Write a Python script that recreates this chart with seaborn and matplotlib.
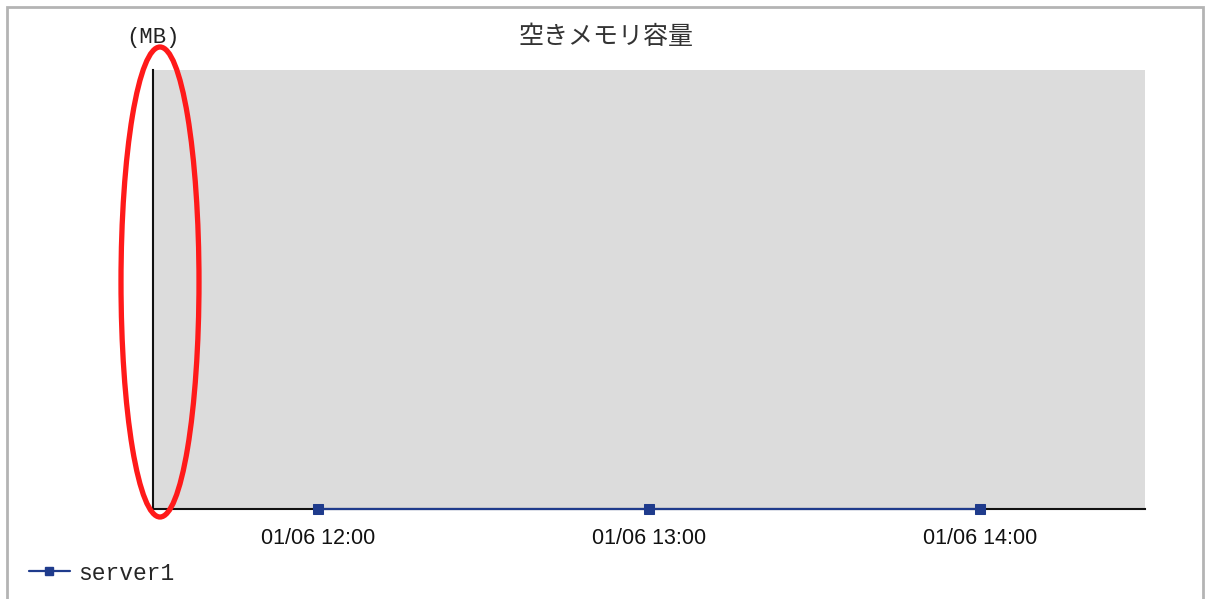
import matplotlib
matplotlib.use("Agg")
import matplotlib.pyplot as plt
import matplotlib.dates as mdates
from matplotlib.patches import Ellipse, Rectangle
from matplotlib.lines import Line2D
import seaborn as sns
import pandas as pd

# ---- data ----
times = ["2024-01-06 12:00", "2024-01-06 13:00", "2024-01-06 14:00"]
free_mb = [0, 0, 0]
series_name = "server1"
title = "空きメモリ容量"
unit_label = "(MB)"
x_start = "2024-01-06 11:30"
x_end = "2024-01-06 14:30"

df = pd.DataFrame({"time": pd.to_datetime(times), "value": free_mb, "series": series_name})

sns.set_theme(style="white")
plt.rcParams['font.family'] = ['Noto Sans CJK JP', 'DejaVu Sans']

fig = plt.figure(figsize=(12.10, 5.99), dpi=100)
ax = fig.add_axes([153/1210, 1-509/599, (1145-153)/1210, (509-70)/599])
ax.set_facecolor("#dcdcdc")

navy = "#1f3b8c"
sns.lineplot(data=df, x="time", y="value", hue="series", palette=[navy],
             marker="s", markersize=7, markeredgecolor=navy, linewidth=1.6,
             ax=ax, clip_on=False, legend=False, zorder=5)

ax.set_xlim(pd.Timestamp(x_start), pd.Timestamp(x_end))
ax.set_ylim(0, 1)
ax.set_yticks([])
ax.set_xlabel("")
ax.set_ylabel("")
ax.xaxis.set_major_locator(mdates.HourLocator())
ax.xaxis.set_major_formatter(mdates.DateFormatter("%m/%d %H:%M"))
ax.tick_params(axis="x", length=0, pad=13.5, labelsize=15.5, colors="#111111")
for lab in ax.get_xticklabels():
    lab.set_fontfamily("Liberation Sans")

for s in ["top", "right"]:
    ax.spines[s].set_visible(False)
for s in ["left", "bottom"]:
    ax.spines[s].set_color("#111111")
    ax.spines[s].set_linewidth(1.5)

# title and unit
fig.text(606/1210, 1-37/599, title, ha="center", va="center", fontsize=18, color="#333333")
fig.text(153/1210, 1-38/599, unit_label, ha="center", va="center", fontsize=16,
         family=["Liberation Mono", "DejaVu Sans Mono"], color="#222222")

# legend
h = Line2D([], [], color=navy, marker="s", markersize=6, linewidth=1.6)
fig.legend([h], [series_name], loc="center left", bbox_to_anchor=(8/1210, 1-573/599),
           frameon=False, handlelength=1.8, handletextpad=0.35,
           prop={"family": "Liberation Mono", "size": 16.5})

# outer frame
fig.patches.append(Rectangle((7/1210, -0.01), (1203-7)/1210, 1-7/599 + 0.01,
                             transform=fig.transFigure, fill=False,
                             edgecolor="#b4b4b4", linewidth=2))

# red annotation ellipse
fig.patches.append(Ellipse((160/1210, 1-282/599), 78/1210, 470/599,
                           transform=fig.transFigure, fill=False,
                           edgecolor="#ff1a1a", linewidth=3.8, zorder=10))

fig.savefig("out.png", dpi=100)
